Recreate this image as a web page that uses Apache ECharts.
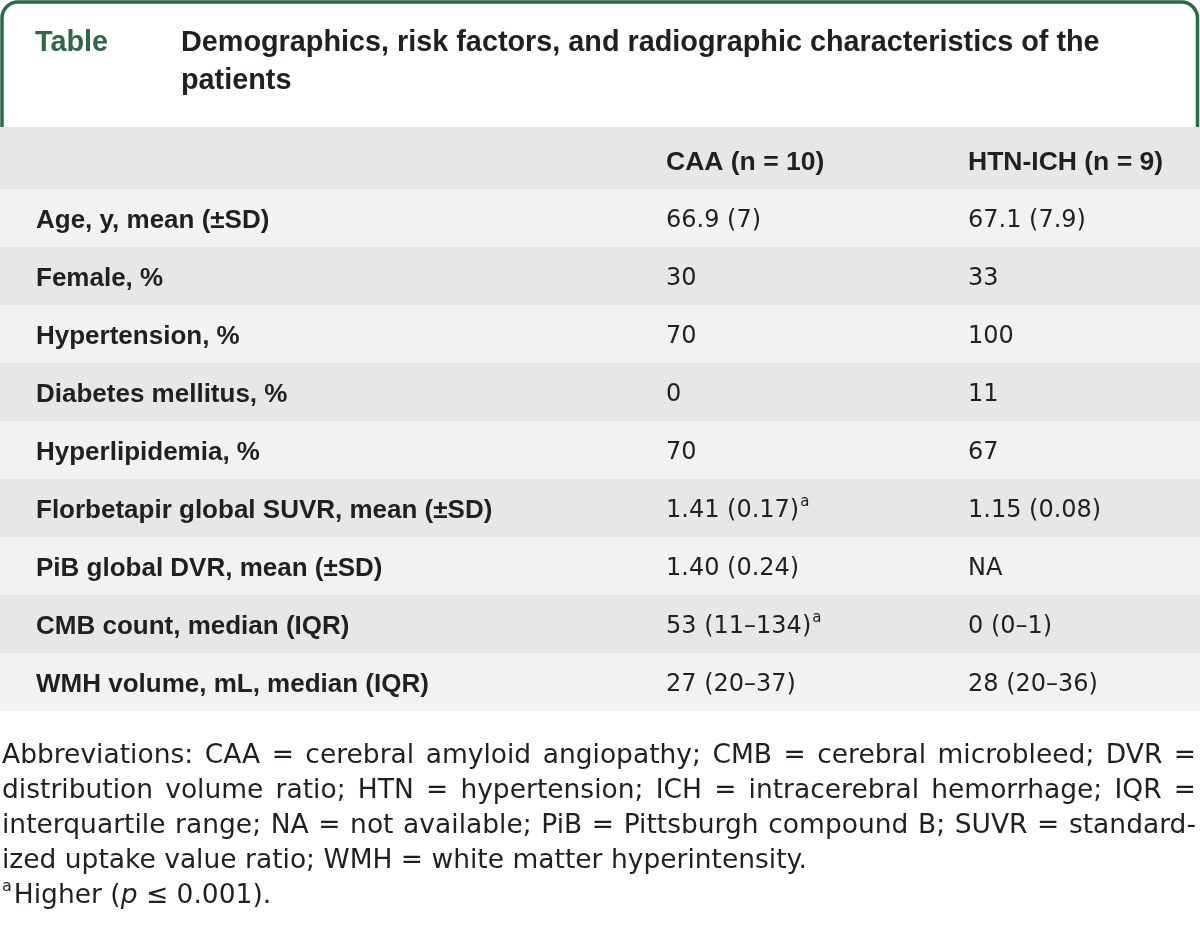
<!DOCTYPE html>
<html>
<head>
<meta charset="utf-8">
<script src="https://cdn.jsdelivr.net/npm/echarts@6/dist/echarts.min.js"></script>
<style>
  html, body { margin: 0; padding: 0; background: #ffffff; }
  #chart { width: 1200px; height: 928px; }
</style>
</head>
<body>
<div id="chart"></div>
<script>
// ---------------- data ----------------
const tableLabel = 'Table';
const titleLines = [
  'Demographics, risk factors, and radiographic characteristics of the',
  'patients'
];
const columnHeaders = ['CAA (n = 10)', 'HTN-ICH (n = 9)'];
const rowLabels = [
  'Age, y, mean (\u00b1SD)',
  'Female, %',
  'Hypertension, %',
  'Diabetes mellitus, %',
  'Hyperlipidemia, %',
  'Florbetapir global SUVR, mean (\u00b1SD)',
  'PiB global DVR, mean (\u00b1SD)',
  'CMB count, median (IQR)',
  'WMH volume, mL, median (IQR)'
];
const caaValues = ['66.9 (7)', '30', '70', '0', '70', '1.41 (0.17)', '1.40 (0.24)', '53 (11\u2013134)', '27 (20\u201337)'];
const caaNotes  = ['', '', '', '', '', 'a', '', 'a', ''];
const htnValues = ['67.1 (7.9)', '33', '100', '11', '67', '1.15 (0.08)', 'NA', '0 (0\u20131)', '28 (20\u201336)'];
const footnoteLines = [
  'Abbreviations: CAA = cerebral amyloid angiopathy; CMB = cerebral microbleed; DVR =',
  'distribution volume ratio; HTN = hypertension; ICH = intracerebral hemorrhage; IQR =',
  'interquartile range; NA = not available; PiB = Pittsburgh compound B; SUVR = standard-',
  'ized uptake value ratio; WMH = white matter hyperintensity.'
];
const sigMark = 'a';
const sigBefore = 'Higher (';
const sigItalic = 'p';
const sigAfter = ' \u2264 0.001).';

// ---------------- style / layout ----------------
const W = 1200;
const BOLD_FAMILY = 'Liberation Sans';
const TEXT_FAMILY = 'DejaVu Sans';
const GREEN = '#2c6a47';
const INK = '#231f20';
const DARK = '#e6e7e7';
const LIGHT = '#f1f2f2';
const colX = [36, 666, 968];
const LABEL_SIZE = 26;
const HEADER_SIZE = 26.5;
const VALUE_SIZE = 24;
const FOOT = 26.5;
const TITLE_SIZE = 28.8;

const measureCtx = document.createElement('canvas').getContext('2d');
function measure(str, size, family, weight, style) {
  measureCtx.font = (style || 'normal') + ' ' + (weight || 'normal') + ' ' + size + 'px "' + family + '"';
  return measureCtx.measureText(str).width;
}
function txt(str, x, y, size, family, weight, fill, style) {
  return {
    type: 'text',
    style: {
      text: str, x: x, y: y, fill: fill || INK,
      fontSize: size, fontWeight: weight || 'normal', fontStyle: style || 'normal',
      fontFamily: family, align: 'left', verticalAlign: 'middle'
    }
  };
}
function g(el) { el.z = 2; return el; }

// ---------------- graphic elements (frame, title, header, footnotes) ----------------
const graphics = [];
graphics.push({
  type: 'rect', z: 0,
  shape: { x: 2, y: 2, width: 1195.5, height: 160, r: [16, 16, 0, 0] },
  style: { fill: '#ffffff', stroke: GREEN, lineWidth: 3.5 }
});
graphics.push({
  type: 'rect', z: 1,
  shape: { x: 0, y: 127, width: W, height: 62 },
  style: { fill: DARK }
});
graphics.push(g(txt(tableLabel, 35, 43, TITLE_SIZE, BOLD_FAMILY, 'bold', GREEN)));
titleLines.forEach(function (line, i) {
  graphics.push(g(txt(line, 181, 43 + i * 38, TITLE_SIZE, BOLD_FAMILY, 'bold', INK)));
});
columnHeaders.forEach(function (h, i) {
  graphics.push(g(txt(h, colX[i + 1], 163, HEADER_SIZE, BOLD_FAMILY, 'bold', INK)));
});

// justified footnote lines
const footX0 = 2, footX1 = 1196, footY0 = 756, footStep = 35;
footnoteLines.forEach(function (line, li) {
  const y = footY0 + li * footStep;
  const words = line.split(' ');
  const justify = li < footnoteLines.length - 1;
  const widths = words.map(function (w) { return measure(w, FOOT, TEXT_FAMILY); });
  const total = widths.reduce(function (a, b) { return a + b; }, 0);
  const gap = justify ? (footX1 - footX0 - total) / (words.length - 1) : measure(' ', FOOT, TEXT_FAMILY);
  let x = footX0;
  words.forEach(function (w, wi) {
    graphics.push(g(txt(w, x, y, FOOT, TEXT_FAMILY, 'normal', INK)));
    x += widths[wi] + gap;
  });
});
(function () {
  const y = footY0 + footnoteLines.length * footStep;
  let x = footX0;
  graphics.push(g(txt(sigMark, x, y - 9, 16, TEXT_FAMILY, 'normal', INK)));
  x += measure(sigMark, 16, TEXT_FAMILY) + 2;
  graphics.push(g(txt(sigBefore, x, y, FOOT, TEXT_FAMILY, 'normal', INK)));
  x += measure(sigBefore, FOOT, TEXT_FAMILY);
  graphics.push(g(txt(sigItalic, x, y, FOOT, TEXT_FAMILY, 'normal', INK, 'italic')));
  x += measure(sigItalic, FOOT, TEXT_FAMILY, 'normal', 'italic');
  graphics.push(g(txt(sigAfter, x, y, FOOT, TEXT_FAMILY, 'normal', INK)));
})();

// ---------------- table rows through a custom series ----------------
function renderRow(params, api) {
  const i = api.value(0);
  const c = api.coord([0, i]);
  const h = api.size([0, 1])[1];
  const xEnd = api.coord([W, i])[0];
  const top = c[1] - h / 2;
  const ty = c[1] + 3;
  const children = [{
    type: 'rect',
    shape: { x: c[0], y: top, width: xEnd - c[0], height: h },
    style: { fill: i % 2 === 0 ? LIGHT : DARK }
  }];
  children.push(txt(rowLabels[i], api.coord([colX[0], i])[0], ty, LABEL_SIZE, BOLD_FAMILY, 'bold'));
  const xc = api.coord([colX[1], i])[0];
  children.push(txt(caaValues[i], xc, ty, VALUE_SIZE, TEXT_FAMILY, 'normal'));
  if (caaNotes[i]) {
    children.push(txt(caaNotes[i], xc + measure(caaValues[i], VALUE_SIZE, TEXT_FAMILY) + 1, ty - 9, 15, TEXT_FAMILY, 'normal'));
  }
  children.push(txt(htnValues[i], api.coord([colX[2], i])[0], ty, VALUE_SIZE, TEXT_FAMILY, 'normal'));
  return { type: 'group', children: children };
}

const chart = echarts.init(document.getElementById('chart'), null, { renderer: 'canvas' });
chart.setOption({
  animation: false,
  backgroundColor: '#ffffff',
  grid: { left: 0, right: 0, top: 189, bottom: 217 },
  xAxis: { type: 'value', min: 0, max: W, show: false },
  yAxis: { type: 'category', data: rowLabels, inverse: true, show: false },
  graphic: graphics,
  series: [{
    type: 'custom',
    silent: true,
    renderItem: renderRow,
    encode: { x: 1, y: 0 },
    data: rowLabels.map(function (_, i) { return [i, 0]; })
  }]
});
</script>
</body>
</html>
